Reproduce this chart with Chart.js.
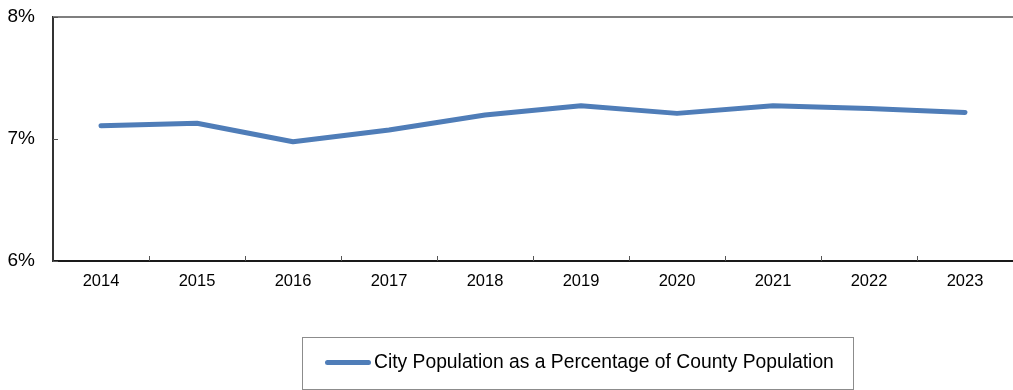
<!DOCTYPE html>
<html>
<head>
<meta charset="utf-8">
<script src="https://cdn.jsdelivr.net/npm/chart.js@4.4.1/dist/chart.umd.min.js"></script>
<style>
  html, body { margin: 0; padding: 0; background: #fff; }
  #wrap { position: relative; width: 1013px; height: 390px; font-family: "Liberation Sans", Arial, sans-serif; }
  #legend {
    position: absolute; left: 302px; top: 337px; width: 550px; height: 51px;
    border: 1px solid #8c8c8c; box-sizing: content-box;
  }
  #legend .swatch {
    position: absolute; left: 22px; top: 22px; width: 46px; height: 5px;
    border-radius: 3px; background: #4f7db8;
  }
  #legend .txt {
    position: absolute; left: 71px; top: 13px; font-size: 19.3px; color: #000; white-space: nowrap;
  }
</style>
</head>
<body>
<div id="wrap">
  <canvas id="grafica" width="1013" height="390"></canvas>
  <div id="legend"><div class="swatch"></div><div class="txt" id="legendText"></div></div>
</div>
<script>
// datos
const anios = ['2014','2015','2016','2017','2018','2019','2020','2021','2022','2023'];
const porcentaje = [7.108, 7.129, 6.977, 7.073, 7.196, 7.273, 7.210, 7.273, 7.251, 7.218];
const etiquetaSerie = 'City Population as a Percentage of County Population';
const ticksY = [6, 7, 8];

document.getElementById('legendText').innerText = etiquetaSerie;

// marcas de eje hacia adentro y borde superior
const marcasEje = {
  id: 'marcasEje',
  afterDraw(chart) {
    const ctx = chart.ctx;
    const area = chart.chartArea;
    const x = chart.scales.x;
    const y = chart.scales.y;
    ctx.save();
    // borde superior gris
    ctx.strokeStyle = '#7f7f7f';
    ctx.lineWidth = 2;
    ctx.beginPath();
    ctx.moveTo(area.left, area.top);
    ctx.lineTo(area.right, area.top);
    ctx.stroke();
    // ticks x entre categorías
    ctx.strokeStyle = '#555';
    ctx.lineWidth = 1;
    const paso = x.getPixelForValue(1) - x.getPixelForValue(0);
    for (let i = 1; i < anios.length; i++) {
      const px = Math.round(x.getPixelForValue(i) - paso / 2) + 0.5;
      ctx.beginPath();
      ctx.moveTo(px, area.bottom);
      ctx.lineTo(px, area.bottom - 5);
      ctx.stroke();
    }
    // ticks y
    ticksY.forEach(v => {
      const py = Math.round(y.getPixelForValue(v)) + 0.5;
      ctx.beginPath();
      ctx.moveTo(area.left, py);
      ctx.lineTo(area.left + 5, py);
      ctx.stroke();
    });
    ctx.restore();
  }
};

const ctx = document.getElementById('grafica').getContext('2d');
new Chart(ctx, {
  type: 'line',
  data: {
    labels: anios,
    datasets: [{
      label: etiquetaSerie,
      data: porcentaje,
      borderColor: '#4f7db8',
      borderWidth: 5,
      borderCapStyle: 'round',
      borderJoinStyle: 'round',
      pointRadius: 0,
      tension: 0,
      fill: false
    }]
  },
  options: {
    responsive: false,
    animation: false,
    layout: { padding: { top: 17, right: 0, left: 0, bottom: 0 } },
    plugins: { legend: { display: false }, tooltip: { enabled: false } },
    scales: {
      x: {
        offset: true,
        grid: { display: false, drawTicks: false },
        border: { display: true, color: '#1a1a1a', width: 2 },
        ticks: {
          color: '#000',
          padding: 11,
          font: { family: '"Liberation Sans", Arial, sans-serif', size: 16.5 },
          maxRotation: 0
        },
        afterFit(scale) { scale.height = 129; }
      },
      y: {
        min: 6,
        max: 8,
        grid: { display: false, drawTicks: false },
        border: { display: true, color: '#333', width: 2 },
        ticks: {
          stepSize: 1,
          color: '#000',
          padding: 18,
          font: { family: '"Liberation Sans", Arial, sans-serif', size: 19, lineHeight: 0.6 },
          callback: v => v + '%'
        },
        afterFit(scale) {
          scale.width = 53;
          scale.paddingTop = 0;
          scale.paddingBottom = 0;
        }
      }
    }
  },
  plugins: [marcasEje]
});
</script>
</body>
</html>
